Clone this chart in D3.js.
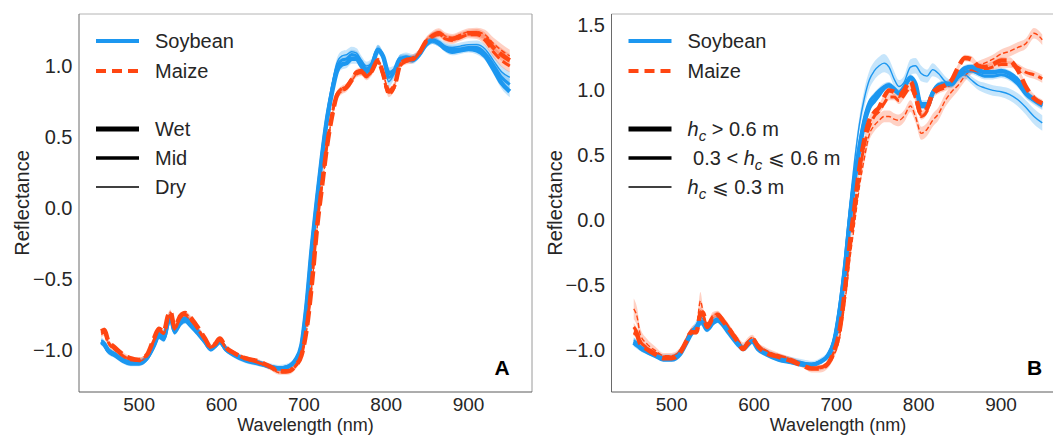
<!DOCTYPE html>
<html>
<head>
<meta charset="utf-8">
<script src="https://cdn.jsdelivr.net/npm/d3@7"></script>
<style>
  body { margin: 0; background: #fff; }
  svg text { font-family: "Liberation Sans", Arial, sans-serif; fill: #262626; }
</style>
</head>
<body>
<svg id="chart" width="1053" height="435"></svg>
<script>
/* ------------------------------- data -------------------------------- */
const wavelength = [454,458,462,470,480,490,500,510,518,524,
  530,535,538,543,550,556,562,570,580,587,
  592,598,605,615,630,645,660,670,680,690,
  697,703,710,716,722,728,734,740,746,752,
  758,764,770,776,782,790,796,803,810,817,
  824,832,840,848,856,864,872,880,890,900,
  910,920,930,940,950];

// panel A : soil moisture classes
const soyWetA = [-0.94,-0.96,-1.00,-1.03,-1.07,-1.09,-1.09,-1.05,-0.96,-0.89,
  -0.91,-0.80,-0.76,-0.86,-0.80,-0.78,-0.81,-0.86,-0.94,-0.99,
  -0.97,-0.94,-0.99,-1.03,-1.07,-1.09,-1.12,-1.13,-1.12,-1.07,
  -0.97,-0.70,-0.26,0.06,0.36,0.62,0.81,0.96,1.01,1.02,
  1.05,1.05,1.00,0.96,0.99,1.11,1.07,0.95,0.97,1.05,
  1.05,1.04,1.08,1.15,1.18,1.16,1.12,1.10,1.11,1.12,
  1.11,1.07,0.98,0.88,0.82];
const soyMidA = [-0.95,-0.97,-1.01,-1.04,-1.08,-1.10,-1.10,-1.06,-0.98,-0.91,
  -0.93,-0.82,-0.78,-0.88,-0.82,-0.80,-0.83,-0.88,-0.95,-1.00,
  -0.98,-0.95,-1.00,-1.04,-1.08,-1.10,-1.12,-1.13,-1.12,-1.07,
  -0.96,-0.68,-0.24,0.08,0.38,0.64,0.84,0.99,1.04,1.05,
  1.08,1.07,1.02,0.98,1.01,1.12,1.07,0.92,0.96,1.05,
  1.06,1.05,1.08,1.15,1.18,1.16,1.13,1.12,1.12,1.13,
  1.13,1.09,1.01,0.92,0.87];
const soyDryA = [-0.93,-0.95,-0.99,-1.02,-1.06,-1.08,-1.08,-1.04,-0.95,-0.88,
  -0.90,-0.80,-0.76,-0.85,-0.79,-0.77,-0.80,-0.86,-0.94,-0.99,
  -0.97,-0.94,-0.99,-1.03,-1.07,-1.09,-1.11,-1.12,-1.11,-1.06,
  -0.95,-0.66,-0.22,0.10,0.40,0.66,0.86,1.02,1.07,1.08,
  1.10,1.09,1.04,1.00,1.02,1.12,1.06,0.89,0.95,1.05,
  1.07,1.06,1.09,1.15,1.18,1.17,1.14,1.13,1.14,1.15,
  1.15,1.12,1.04,0.96,0.92];
const maizeWetA = [-0.87,-0.86,-0.93,-0.98,-1.03,-1.06,-1.07,-1.03,-0.92,-0.85,
  -0.87,-0.76,-0.73,-0.84,-0.76,-0.74,-0.77,-0.83,-0.92,-0.98,
  -0.96,-0.92,-0.98,-1.02,-1.06,-1.08,-1.12,-1.15,-1.15,-1.11,
  -1.04,-0.87,-0.52,-0.14,0.15,0.43,0.64,0.79,0.83,0.85,
  0.90,0.95,0.96,0.93,0.96,1.04,0.95,0.82,0.86,1.01,
  1.04,1.05,1.09,1.17,1.21,1.23,1.20,1.19,1.21,1.23,
  1.23,1.20,1.13,1.08,1.04];
const maizeMidA = [-0.88,-0.87,-0.94,-0.99,-1.04,-1.07,-1.07,-1.03,-0.93,-0.86,
  -0.88,-0.77,-0.74,-0.85,-0.77,-0.75,-0.78,-0.84,-0.93,-0.98,
  -0.96,-0.93,-0.98,-1.02,-1.06,-1.09,-1.12,-1.15,-1.15,-1.11,
  -1.04,-0.86,-0.50,-0.12,0.17,0.44,0.65,0.80,0.84,0.86,
  0.91,0.96,0.97,0.93,0.96,1.03,0.94,0.80,0.85,1.00,
  1.03,1.04,1.09,1.17,1.21,1.22,1.19,1.18,1.20,1.22,
  1.22,1.18,1.10,1.04,1.00];
const maizeDryA = [-0.89,-0.88,-0.95,-1.00,-1.04,-1.07,-1.08,-1.04,-0.94,-0.87,
  -0.89,-0.78,-0.75,-0.86,-0.78,-0.76,-0.79,-0.85,-0.93,-0.99,
  -0.97,-0.93,-0.99,-1.03,-1.07,-1.09,-1.13,-1.16,-1.16,-1.12,
  -1.05,-0.88,-0.53,-0.15,0.14,0.42,0.63,0.78,0.82,0.84,
  0.89,0.94,0.95,0.92,0.95,1.04,0.96,0.83,0.87,1.02,
  1.05,1.06,1.10,1.18,1.22,1.24,1.21,1.20,1.22,1.24,
  1.24,1.22,1.16,1.11,1.07];

// panel B : canopy height classes
const soyTallB = [-0.94,-0.96,-0.98,-1.01,-1.04,-1.07,-1.07,-1.03,-0.94,-0.87,
  -0.83,-0.78,-0.79,-0.84,-0.79,-0.77,-0.80,-0.87,-0.95,-0.99,
  -0.96,-0.93,-0.99,-1.03,-1.07,-1.09,-1.11,-1.11,-1.09,-1.04,
  -0.94,-0.74,-0.40,-0.02,0.30,0.55,0.75,0.87,0.92,0.97,
  1.02,1.04,1.01,0.98,1.02,1.10,1.05,0.88,0.88,0.98,
  1.04,1.05,1.05,1.12,1.17,1.18,1.16,1.14,1.14,1.15,
  1.13,1.08,0.98,0.93,0.89];
const soyMediumB = [-0.93,-0.95,-0.98,-1.01,-1.04,-1.06,-1.06,-1.02,-0.93,-0.86,
  -0.84,-0.78,-0.78,-0.84,-0.78,-0.76,-0.80,-0.86,-0.94,-0.98,
  -0.95,-0.93,-0.98,-1.02,-1.06,-1.08,-1.10,-1.11,-1.09,-1.04,
  -0.93,-0.72,-0.37,0.02,0.34,0.59,0.79,0.91,0.96,1.00,
  1.03,1.04,1.01,0.98,1.02,1.09,1.04,0.90,0.90,0.99,
  1.04,1.05,1.05,1.10,1.14,1.15,1.13,1.11,1.11,1.12,
  1.10,1.05,0.97,0.92,0.88];
const soyShortB = [-0.92,-0.94,-0.97,-1.00,-1.03,-1.05,-1.05,-1.01,-0.92,-0.85,
  -0.80,-0.74,-0.76,-0.82,-0.77,-0.75,-0.79,-0.85,-0.93,-0.97,
  -0.94,-0.92,-0.97,-1.01,-1.05,-1.07,-1.09,-1.10,-1.08,-1.02,
  -0.90,-0.66,-0.28,0.10,0.45,0.74,0.94,1.08,1.15,1.19,
  1.21,1.18,1.09,1.03,1.06,1.18,1.19,1.13,1.11,1.16,
  1.13,1.07,1.05,1.10,1.12,1.08,1.04,1.02,1.00,0.99,
  0.97,0.93,0.87,0.80,0.75];
const maizeTallB = [-0.86,-0.88,-0.95,-0.99,-1.03,-1.06,-1.06,-1.02,-0.93,-0.86,
  -0.86,-0.72,-0.71,-0.82,-0.75,-0.73,-0.77,-0.84,-0.93,-0.99,
  -0.95,-0.91,-0.97,-1.02,-1.05,-1.08,-1.12,-1.14,-1.14,-1.10,
  -1.01,-0.88,-0.56,-0.20,0.10,0.40,0.62,0.77,0.83,0.87,
  0.95,1.00,0.99,0.96,1.00,1.07,0.96,0.82,0.86,0.98,
  1.02,1.04,1.08,1.18,1.25,1.24,1.19,1.18,1.20,1.23,
  1.23,1.16,1.03,0.94,0.90];
const maizeMediumB = [-0.82,-0.86,-0.93,-0.98,-1.02,-1.05,-1.05,-1.01,-0.92,-0.85,
  -0.85,-0.70,-0.72,-0.82,-0.74,-0.72,-0.76,-0.83,-0.92,-0.98,
  -0.94,-0.91,-0.96,-1.01,-1.04,-1.07,-1.11,-1.13,-1.13,-1.09,
  -1.01,-0.89,-0.58,-0.22,0.07,0.36,0.58,0.72,0.80,0.84,
  0.90,0.95,0.95,0.92,0.96,1.02,0.94,0.80,0.84,0.96,
  1.00,1.02,1.06,1.13,1.16,1.16,1.15,1.16,1.18,1.20,
  1.20,1.18,1.14,1.12,1.09];
const maizeShortB = [-0.68,-0.74,-0.88,-0.95,-1.00,-1.04,-1.04,-1.00,-0.91,-0.84,
  -0.82,-0.62,-0.70,-0.81,-0.73,-0.72,-0.76,-0.82,-0.91,-0.97,
  -0.93,-0.90,-0.96,-1.00,-1.04,-1.07,-1.11,-1.14,-1.14,-1.11,
  -1.04,-0.93,-0.65,-0.32,-0.03,0.26,0.48,0.66,0.73,0.77,
  0.80,0.80,0.78,0.77,0.80,0.88,0.80,0.67,0.70,0.77,
  0.82,0.92,0.99,1.04,1.11,1.16,1.19,1.21,1.24,1.28,
  1.30,1.33,1.36,1.44,1.39];

// half-width of the shaded bands
const bandSoyA = [0.02,0.02,0.02,0.015,0.015,0.015,0.015,0.015,0.015,0.015,
  0.015,0.02,0.02,0.015,0.015,0.015,0.015,0.015,0.015,0.015,
  0.015,0.015,0.015,0.015,0.015,0.015,0.015,0.015,0.015,0.015,
  0.015,0.02,0.02,0.02,0.02,0.025,0.025,0.03,0.035,0.035,
  0.035,0.035,0.03,0.03,0.03,0.03,0.03,0.04,0.035,0.03,
  0.025,0.025,0.025,0.025,0.025,0.025,0.025,0.025,0.025,0.025,
  0.03,0.03,0.035,0.04,0.04];
const bandMaizeA = [0.02,0.02,0.015,0.015,0.015,0.015,0.015,0.015,0.015,0.015,
  0.015,0.015,0.015,0.015,0.015,0.015,0.015,0.015,0.015,0.015,
  0.015,0.015,0.015,0.015,0.015,0.015,0.015,0.015,0.015,0.015,
  0.015,0.02,0.02,0.02,0.02,0.02,0.02,0.02,0.02,0.02,
  0.02,0.02,0.02,0.02,0.02,0.02,0.02,0.02,0.02,0.02,
  0.02,0.02,0.02,0.02,0.025,0.025,0.025,0.025,0.025,0.025,
  0.03,0.035,0.04,0.045,0.045];
const bandNarrowB = [0.03,0.03,0.025,0.02,0.015,0.015,0.015,0.015,0.015,0.02,
  0.02,0.03,0.025,0.02,0.02,0.02,0.02,0.015,0.015,0.015,
  0.015,0.015,0.015,0.015,0.015,0.015,0.015,0.015,0.015,0.015,
  0.015,0.02,0.02,0.02,0.02,0.02,0.02,0.025,0.025,0.025,
  0.025,0.025,0.025,0.025,0.025,0.025,0.025,0.025,0.025,0.025,
  0.025,0.025,0.025,0.025,0.025,0.025,0.025,0.025,0.025,0.025,
  0.025,0.025,0.03,0.03,0.03];
const bandSoyShortB = [0.02,0.02,0.02,0.02,0.02,0.02,0.02,0.02,0.02,0.02,
  0.03,0.04,0.03,0.02,0.02,0.02,0.02,0.02,0.02,0.02,
  0.02,0.02,0.02,0.02,0.02,0.02,0.02,0.02,0.02,0.02,
  0.02,0.03,0.03,0.04,0.05,0.06,0.07,0.07,0.07,0.07,
  0.07,0.06,0.06,0.05,0.05,0.06,0.06,0.06,0.05,0.05,
  0.04,0.04,0.03,0.03,0.03,0.03,0.035,0.04,0.04,0.04,
  0.045,0.05,0.055,0.06,0.06];
const bandMaizeShortB = [0.08,0.07,0.05,0.04,0.03,0.02,0.02,0.02,0.02,0.02,
  0.03,0.07,0.04,0.03,0.025,0.025,0.025,0.02,0.02,0.03,
  0.025,0.02,0.02,0.02,0.02,0.02,0.025,0.03,0.03,0.025,
  0.02,0.02,0.03,0.03,0.03,0.035,0.04,0.045,0.045,0.045,
  0.045,0.045,0.045,0.045,0.045,0.045,0.045,0.05,0.05,0.05,
  0.05,0.05,0.05,0.04,0.04,0.035,0.035,0.035,0.035,0.035,
  0.04,0.04,0.04,0.04,0.04];

const xTicks  = [500, 600, 700, 800, 900];
const yTicksA = [-1.0, -0.5, 0.0, 0.5, 1.0];
const yTicksB = [-1.0, -0.5, 0.0, 0.5, 1.0, 1.5];
const cropLabels  = ['Soybean', 'Maize'];
const moistLabels = ['Wet', 'Mid', 'Dry'];
// rich labels: [text, style] with style '' | 'i' (italic) | 'sub' (italic subscript)
const heightLabels = [
  [['h','i'],['c','sub'],[' > 0.6 m','']],
  [['\u00a00.3 < ',''],['h','i'],['c','sub'],[' \u2A7D 0.6 m','']],
  [['h','i'],['c','sub'],[' \u2A7D 0.3 m','']]
];

/* ------------------------------- constants --------------------------- */
const SOY   = '#1c97f0';
const MAIZE = '#ff4612';
const LW    = {thick: 4.5, mid: 3, thin: 1.4};
const DASH  = {thick: '14,6', mid: '10,4.5', thin: '5,2.5'};
const TOP = 14, BOTTOM = 392, PW = 453;
const svg = d3.select('#chart');

const panels = [
  { left: 79,    letter: 'A', yDomain: [-1.296, 1.366], yTicks: yTicksA, labels: moistLabels,
    series: [
      {v: soyDryA,   b: bandSoyA,   c: SOY,   w: 'thin'},
      {v: soyMidA,   b: bandSoyA,   c: SOY,   w: 'mid'},
      {v: soyWetA,   b: bandSoyA,   c: SOY,   w: 'thick'},
      {v: maizeDryA, b: bandMaizeA, c: MAIZE, w: 'thin',  dash: true},
      {v: maizeMidA, b: bandMaizeA, c: MAIZE, w: 'mid',   dash: true},
      {v: maizeWetA, b: bandMaizeA, c: MAIZE, w: 'thick', dash: true}
    ]},
  { left: 611.5, letter: 'B', yDomain: [-1.32, 1.588], yTicks: yTicksB, labels: heightLabels,
    series: [
      {v: maizeShortB,  b: bandMaizeShortB, c: MAIZE, w: 'thin',  dash: true},
      {v: soyShortB,    b: bandSoyShortB,   c: SOY,   w: 'thin'},
      {v: soyMediumB,   b: bandNarrowB,     c: SOY,   w: 'mid'},
      {v: maizeMediumB, b: bandNarrowB,     c: MAIZE, w: 'mid',   dash: true},
      {v: soyTallB,     b: bandNarrowB,     c: SOY,   w: 'thick'},
      {v: maizeTallB,   b: bandNarrowB,     c: MAIZE, w: 'thick', dash: true}
    ]}
];

/* ------------------------------- drawing ----------------------------- */
function drawPanel(p) {
  const x = d3.scaleLinear().domain([427, 977]).range([p.left, p.left + PW]);
  const y = d3.scaleLinear().domain(p.yDomain).range([BOTTOM, TOP]);
  const g = svg.append('g');

  // bands
  p.series.forEach(s => {
    const area = d3.area()
      .curve(d3.curveMonotoneX)
      .x((d, i) => x(wavelength[i]))
      .y0((d, i) => y(d - s.b[i]))
      .y1((d, i) => y(d + s.b[i]));
    g.append('path').datum(s.v).attr('d', area)
      .attr('fill', s.c).attr('opacity', 0.25);
  });

  // lines
  p.series.forEach(s => {
    const line = d3.line()
      .curve(d3.curveMonotoneX)
      .x((d, i) => x(wavelength[i]))
      .y(d => y(d));
    g.append('path').datum(s.v).attr('d', line)
      .attr('fill', 'none').attr('stroke', s.c)
      .attr('stroke-width', LW[s.w])
      .attr('stroke-linejoin', 'round')
      .attr('stroke-dasharray', s.dash ? DASH[s.w] : null);
  });

  // spines
  const [x0, x1] = x.range();
  g.append('line').attr('x1', x0).attr('x2', x1).attr('y1', TOP).attr('y2', TOP).attr('stroke', '#b4b4b4');
  g.append('line').attr('x1', x1).attr('x2', x1).attr('y1', TOP).attr('y2', BOTTOM).attr('stroke', '#9a9a9a');
  g.append('line').attr('x1', x0).attr('x2', x0).attr('y1', TOP).attr('y2', BOTTOM).attr('stroke', '#6a6a6a');
  g.append('line').attr('x1', x0).attr('x2', x1).attr('y1', BOTTOM).attr('y2', BOTTOM).attr('stroke', '#5a5a5a');

  // tick labels
  const fmt = d3.format('.1f');
  g.selectAll('.yt').data(p.yTicks).enter().append('text')
    .attr('x', x0 - 6.5).attr('y', d => y(d)).attr('dy', '0.35em')
    .attr('text-anchor', 'end').attr('font-size', 20).text(d => fmt(d));
  g.selectAll('.xt').data(xTicks).enter().append('text')
    .attr('x', d => x(d)).attr('y', 410.5)
    .attr('text-anchor', 'middle').attr('font-size', 19).text(d => d);

  // axis titles
  g.append('text').attr('x', (x0 + x1) / 2).attr('y', 431)
    .attr('text-anchor', 'middle').attr('font-size', 18).text('Wavelength (nm)');
  g.append('text').attr('transform', `translate(${x0 - 57},${(TOP + BOTTOM) / 2}) rotate(-90)`)
    .attr('dy', '0.35em').attr('text-anchor', 'middle').attr('font-size', 20).text('Reflectance');

  // panel letter
  g.append('text').attr('x', x0 + 423).attr('y', 375)
    .attr('text-anchor', 'middle').attr('font-size', 21).attr('font-weight', 'bold')
    .style('fill', '#000').text(p.letter);

  // legend
  const lx0 = x0 + 17, lx1 = x0 + 60, tx = x0 + 76;
  const cropRows = [41, 71];
  cropLabels.forEach((lab, i) => {
    g.append('line').attr('x1', lx0).attr('x2', lx1).attr('y1', cropRows[i]).attr('y2', cropRows[i])
      .attr('stroke', i === 0 ? SOY : MAIZE).attr('stroke-width', 4)
      .attr('stroke-dasharray', i === 0 ? null : '10,6');
    g.append('text').attr('x', tx).attr('y', cropRows[i]).attr('dy', '0.35em')
      .attr('font-size', 20).text(lab);
  });
  const clsRows = [129, 158, 187];
  const clsW = [5, 3.5, 1.7];
  p.labels.forEach((lab, i) => {
    g.append('line').attr('x1', lx0).attr('x2', lx1).attr('y1', clsRows[i]).attr('y2', clsRows[i])
      .attr('stroke', '#000').attr('stroke-width', clsW[i]);
    const t = g.append('text').attr('x', tx).attr('y', clsRows[i] + 7).attr('font-size', 20);
    if (typeof lab === 'string') { t.text(lab); return; }
    lab.forEach(([txt, st]) => {
      const ts = t.append('tspan').text(txt);
      if (st === 'i') ts.attr('font-style', 'italic');
      if (st === 'sub') ts.attr('font-style', 'italic').attr('font-size', 15).attr('dy', 5);
      else if (t.attr('data-sub')) ts.attr('dy', -5);
      t.attr('data-sub', st === 'sub' ? '1' : null);
    });
  });
}

panels.forEach(drawPanel);
</script>
</body>
</html>
